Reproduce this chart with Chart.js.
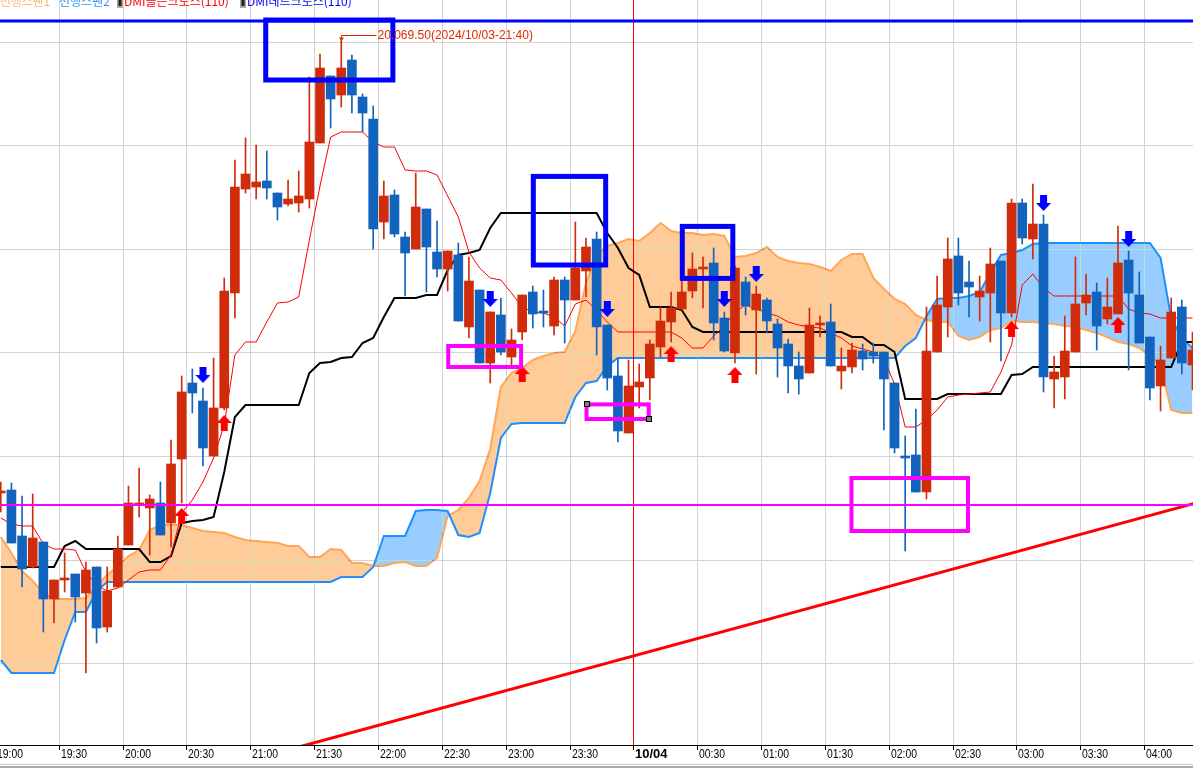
<!DOCTYPE html>
<html>
<head>
<meta charset="utf-8">
<style>
html, body { margin: 0; padding: 0; background: #fff; overflow: hidden; }
#wrap { width: 1193px; height: 768px; }
</style>
<script src="https://cdn.jsdelivr.net/npm/chart.js@4.4.1/dist/chart.umd.min.js"></script>
</head>
<body>
<div id="wrap"><canvas id="ichimoku-chart" width="1193" height="768"></canvas></div>
<script>
// 5-minute bars, 2024/10/03 19:00 -> 10/04 04:20
const firstBarDate = '2024/10/03';
const firstBarMinute = 19 * 60;
const barMinutes = 5;

const tickLabels = ['19:00', '19:30', '20:00', '20:30', '21:00', '21:30', '22:00', '22:30', '23:00', '23:30',
    '10/04', '00:30', '01:00', '01:30', '02:00', '02:30', '03:00', '03:30', '04:00'];
const barsPerTick = 6;

const opens = [
    19955.75, 19956.5, 19945, 19937.25, 19943.5, 19929.25, 19934, 19935.5, 19930.75, 19937.25,
    19922.25, 19932.25, 19942.75, 19952.75, 19952, 19953.25, 19948.25, 19964.25, 19983.25, 19978.75,
    19965, 19977, 20005.75, 20031.75, 20032.25, 20033.75, 20030.75, 20028, 20028.25, 20029.25,
    20043.25, 20060, 20055.25, 20064, 20054.75, 20049.25, 20023.5, 20030.25, 20019.75, 20016.75,
    20026.75, 20016, 20011.75, 20015.25, 19997.25, 20006.5, 19988.25, 20000.25, 19989.75, 19996,
    20006, 20001.25, 19997.5, 20009, 20004, 20011.25, 20019.25, 19997.75, 19985, 19970.75,
    19982.25, 19984.5, 19992.25, 19998.5, 20001.75, 20006.25, 20011.75, 20013.25, 19999.5, 19990.75,
    20008.5, 20001.5, 20004, 19998, 19993, 19987.5, 19985.75, 19997.75, 19998.5, 19986.25,
    19987.25, 19991.25, 19991, 19991, 19983.25, 19965, 19965.25, 19956, 19991, 20002.25,
    20015, 20008.5, 20004.75, 20005.75, 20013.75, 20000.75, 20028.25, 20019.25, 20023, 19984.25,
    19984.75, 19991, 20003.25, 20006, 19999.25, 20000.5, 20014, 20005.25, 19994.75, 19982.5,
    19989.5, 20002.25, 19987.75
];
const highs = [
    19958.5, 19958.25, 19955, 19955.5, 19943.5, 19934, 19940.75, 19935.5, 19938.5, 19937.25,
    19937.25, 19945, 19957.5, 19962, 19955.25, 19958.5, 19969, 19985, 19986.75, 19982,
    19989.5, 20009.5, 20039, 20044.5, 20042.75, 20041.25, 20030.75, 20034, 20036.25, 20059.75,
    20065.5, 20060, 20069.5, 20065.25, 20055.5, 20052.5, 20033.75, 20031.5, 20021, 20035.75,
    20026.75, 20023.75, 20016.25, 20018.25, 20014.75, 20006.5, 20001, 20004.5, 19996.75, 20005.25,
    20007.5, 20006.5, 20009.75, 20009.75, 20023.5, 20019.5, 20021, 19997.75, 19989.5, 19989,
    19988, 19994, 20002.25, 20006, 20009, 20015.75, 20014.75, 20017, 20001, 20012.5,
    20009.75, 20007.5, 20004.5, 19999.25, 19994.25, 19991, 20002, 20000, 20003, 19992,
    19993.25, 19993, 19993.25, 19991, 19983.25, 19970, 19976.75, 20002.25, 20010, 20019.5,
    20019.5, 20013.75, 20010, 20017, 20013.75, 20029.25, 20029.25, 20033, 20025.25, 19990,
    20000, 20014.75, 20010.5, 20008.25, 20009.5, 20022.5, 20016.25, 20011, 19994.75, 19992.5,
    20004.5, 20004, 19996
];
const lows = [
    19951, 19943.25, 19932.25, 19937, 19921, 19923.25, 19931, 19923.5, 19910.75, 19918.25,
    19921, 19932.25, 19942.75, 19949.75, 19940.25, 19945.25, 19942.25, 19953.25, 19975.75, 19962.5,
    19965, 19976.5, 19999.5, 20030.75, 20029.25, 20029.25, 20024, 20027.5, 20026, 20027,
    20043.25, 20047, 20052.25, 20050.75, 20046, 20016.75, 20019.25, 20019.75, 20005, 20016.75,
    20006, 20009.75, 20006.25, 19998.75, 19994.5, 19988.25, 19983.25, 19990.25, 19987.75, 19994,
    19997, 19997.25, 19995.25, 19993.25, 20004, 20004.75, 19990.25, 19981.5, 19968.5, 19970.75,
    19977, 19979, 19989.75, 19993.5, 20001.5, 20004.5, 20002, 19994, 19991, 19988.25,
    20000.25, 19985.5, 19995.75, 19984.75, 19980.75, 19980.5, 19985.75, 19994.75, 19987.5, 19981.75,
    19985.75, 19986.5, 19988.25, 19971.5, 19965.75, 19941.25, 19956, 19954.25, 19991, 19994.75,
    20002.75, 19999.75, 19998.75, 19993.5, 19988.75, 19999.75, 20018, 20014.25, 19981, 19977,
    19979.25, 19991, 20000.25, 19991.5, 19998, 20000.5, 19986.5, 19993.25, 19979, 19976.25,
    19989.5, 19985.5, 19981.5
];
const closes = [
    19956.25, 19943.25, 19936.75, 19944.5, 19929.25, 19934, 19934.5, 19929.75, 19936.5, 19922,
    19931.25, 19941.75, 19953.25, 19953.25, 19954.25, 19945.25, 19963, 19981, 19980.75, 19967,
    19977, 20006.25, 20032.25, 20035.5, 20033.5, 20032, 20027.25, 20029.25, 20030, 20043.5,
    20062, 20054.25, 20062, 20055.25, 20050.75, 20021.75, 20030, 20020.5, 20015.75, 20027.25,
    20017.25, 20011.75, 20016.25, 19998.75, 20008.75, 19988.25, 20001, 19991, 19994, 20005.25,
    20000.5, 20000.75, 20009, 20004, 20012, 20017.25, 19997.25, 19984.5, 19971.25, 19982.5,
    19983.5, 19993, 19998.75, 20002, 20006, 20011.75, 20012.25, 19998.25, 19991.25, 20012,
    20002.5, 20005.5, 19998.75, 19992, 19987.5, 19984.25, 19997.75, 19998.25, 19987.5, 19987.5,
    19991.5, 19989.25, 19990, 19984.25, 19967, 19964.5, 19956, 19991.25, 20002.75, 20014.25,
    20005.75, 20007.25, 20006.25, 20013, 20000.75, 20028.25, 20019.5, 20023, 19984.75, 19986,
    19991.25, 20003, 20005.25, 19997.5, 20002.25, 20013.25, 20005.75, 19993.25, 19982, 19989,
    20001, 19988.25, 19991.5
];

// ichimoku lines, one value per bar (spans already shifted to the bar they are drawn on)
const tenkan = [
    19949.5, 19948, 19947.5, 19947.5, 19943, 19941.75, 19941.75, 19941.5, 19936, 19932.75,
    19931.25, 19932, 19934, 19936, 19936.5, 19936.5, 19940.25, 19950.75, 19954, 19958.5,
    19964.5, 19972.75, 19990.25, 19993.5, 19993.5, 19998.5, 20003.25, 20003.5, 20004.75, 20019,
    20032.5, 20044.75, 20046, 20046, 20046, 20043.5, 20042.25, 20042.25, 20036.5, 20036.25,
    20036.25, 20035.25, 20030, 20024.75, 20016, 20012, 20009.5, 20009, 20005.75, 20002.25,
    20001, 20000.75, 19999.75, 19997.5, 20003, 20004, 20001.5, 19998.5, 19996, 19996,
    19996, 19996, 19996, 19996, 19994.5, 19992, 19992, 19995, 19997.5, 20001,
    20002.75, 20001.75, 20000.75, 20000, 19998.5, 19997.75, 19997.25, 19997, 19995.75, 19994.5,
    19992.5, 19991.75, 19991, 19989.25, 19983, 19972.25, 19972.25, 19974, 19976.5, 19979.75,
    19980.25, 19980.5, 19980.75, 19981, 19986, 19992.75, 20007.75, 20010.5, 20007, 20005,
    20005, 20005, 20005, 20005, 20005, 20005, 20001.75, 20000.75, 20000.5, 19999.5,
    19999.5, 19999.5, 19999.5
];
const kijun = [
    19937.25, 19937.25, 19937.25, 19937.25, 19937.25, 19937.25, 19942.5, 19943.75, 19941.75, 19941.75,
    19941.75, 19941.75, 19941.75, 19941.75, 19938.5, 19938.5, 19940, 19948.25, 19948.75, 19949,
    19949.75, 19961, 19974.75, 19977.75, 19977.75, 19977.75, 19977.75, 19977.75, 19977.75, 19985.75,
    19988.25, 19988.5, 19989.5, 19989.75, 19993.25, 19994.5, 19999.75, 20004.5, 20004.5, 20004.5,
    20005.25, 20005.25, 20011.5, 20015.25, 20015.75, 20016.5, 20022, 20025.75, 20025.75, 20025.75,
    20025.75, 20025.75, 20025.75, 20025.75, 20025.75, 20025.75, 20025.75, 20020.75, 20017, 20012,
    20010.25, 20002.25, 20002.25, 20002.25, 20001.5, 19997.25, 19996, 19996, 19996, 19996,
    19996, 19996, 19996, 19996, 19996, 19996, 19996, 19996, 19996, 19996,
    19994.75, 19994.75, 19992.75, 19992.75, 19991, 19979.25, 19979.25, 19979.25, 19979.25, 19980.5,
    19980.5, 19980.5, 19980.5, 19980.5, 19980.5, 19985.25, 19985.5, 19987.25, 19987.25, 19987.25,
    19987.25, 19987.25, 19987.25, 19987.25, 19987.25, 19987.25, 19987.25, 19987.25, 19987.25, 19987.25,
    19987.25, 19993.5, 19993.5
];
const senkouA = [
    19944.75, 19940.75, 19936.25, 19933.75, 19930.75, 19929.25, 19929.25, 19929.25, 19929.5, 19932.5,
    19935.25, 19937.5, 19940, 19941.5, 19946.5, 19947.75, 19947.75, 19947.75, 19947, 19946.25,
    19946, 19945.75, 19944.75, 19944, 19943.75, 19943.5, 19943.25, 19942.5, 19942.5, 19939.75,
    19939.75, 19941.75, 19941.5, 19938.25, 19938.25, 19937.5, 19937.5, 19938.25, 19938.5, 19937.5,
    19937.5, 19939.5, 19950, 19951.5, 19954.5, 19958.75, 19966.75, 19982.25, 19985.75, 19987,
    19989, 19990, 19990.75, 19991, 19996.25, 20008.25, 20015.25, 20017.5, 20018.25, 20019.25,
    20018.75, 20020.75, 20023.25, 20021.25, 20020.75, 20020.75, 20020.25, 20020.5, 20020, 20014.75,
    20015, 20015.75, 20017.25, 20014.75, 20013.75, 20013.25, 20013, 20012.25, 20011.25, 20014,
    20015.5, 20015.5, 20009.5, 20006.75, 20004.25, 20003, 20000.25, 19999, 19998.5, 19998.5,
    19995, 19994, 19994.75, 19996.5, 19997, 19998.75, 19998.5, 19998.5, 19998.25, 19998,
    19997.5, 19997.25, 19996.5, 19995.75, 19994.75, 19993.5, 19993, 19992, 19990, 19987.75,
    19976.5, 19975.75, 19975.75
];
const senkouB = [
    19914, 19910.75, 19910.75, 19910.75, 19910.75, 19910.75, 19919, 19926, 19926, 19931.25,
    19933.5, 19933.5, 19933.5, 19933.5, 19933.5, 19933.5, 19933.5, 19933.5, 19933.5, 19933.5,
    19933.5, 19933.5, 19933.5, 19933.5, 19933.5, 19933.5, 19933.5, 19933.5, 19933.5, 19933.5,
    19933.5, 19933.5, 19934.75, 19934.75, 19934.75, 19937.25, 19945, 19945, 19945, 19951.25,
    19951.5, 19951.5, 19951.25, 19945.25, 19944.75, 19945.75, 19955.75, 19969.5, 19973, 19973.25,
    19973.25, 19973.25, 19973.25, 19973.25, 19979.75, 19983.25, 19983.75, 19987.5, 19989.5, 19989.5,
    19989.5, 19989.5, 19989.5, 19989.5, 19989.5, 19989.5, 19989.5, 19989.5, 19989.5, 19989.5,
    19989.5, 19989.5, 19989.5, 19989.5, 19989.5, 19989.5, 19989.5, 19989.5, 19989.5, 19989.5,
    19989.5, 19989.5, 19989.5, 19989.5, 19989.5, 19992.5, 19994.5, 20000, 20004.25, 20004.5,
    20004.5, 20005, 20006, 20010.75, 20015.25, 20015.75, 20016.5, 20018, 20018.25, 20018.25,
    20018.25, 20018.25, 20018.25, 20018.25, 20018.25, 20018.25, 20018.25, 20018.25, 20018.25, 20014.5,
    19999.5, 19994.5, 19992
];

// DMI signals: bar index and marker price
const goldenBars = [17, 21, 49, 63, 69, 95, 105];
const goldenLevels = [19950, 19973.25, 19985.5, 19990.5, 19985.25, 19996.75, 19997.75];
const deadBars = [19, 46, 57, 68, 71, 98, 106];
const deadLevels = [19985.25, 20004.25, 20001.75, 20004.25, 20010.5, 20028.25, 20019.25];

// drawn objects: horizontal levels, trend line, boxes [fromBar, toBar, topPrice, bottomPrice]
const blueLevel = 20073.75;
const magentaLevel = 19952.75;
const trendPoints = [{ x: 28, y: 19892.25 }, { x: 113, y: 19953.75 }];
const blueBoxes = [[24.9, 36.85, 20074, 20059], [50.05, 56.85, 20034.9, 20012.75], [64.05, 68.8, 20022.4, 20009.4]];
const magentaBoxes = [[42.05, 48.9, 19992.5, 19987.25], [55.05, 60.9, 19977.9, 19974.25], [79.95, 90.9, 19959.5, 19946.25]];

const priceGrid = [20068.6, 20042.7, 20016.8, 19990.9, 19965.0, 19939.1, 19913.2];

const upColor = '#D02C0C';
const downColor = '#1263BE';

const xTicks = tickLabels.map((_, k) => k * barsPerTick - 0.5);
const dateBreak = xTicks[tickLabels.indexOf('10/04')];

function series(arr) {
    return arr.map((v, i) => ({ x: i, y: v }));
}

function barTime(i) {
    const m = firstBarMinute + i * barMinutes;
    const hh = String(Math.floor(m / 60) % 24).padStart(2, '0');
    const mm = String(m % 60).padStart(2, '0');
    return hh + ':' + mm;
}

function makeArrow(color, up) {
    const c = document.createElement('canvas');
    c.width = 15;
    c.height = 16;
    const g = c.getContext('2d');
    g.fillStyle = color;
    if (!up) {
        g.translate(0, 16);
        g.scale(1, -1);
    }
    g.beginPath();
    g.moveTo(7.5, 0);
    g.lineTo(15, 8);
    g.lineTo(0, 8);
    g.closePath();
    g.fill();
    g.fillRect(4, 8, 7, 8);
    return c;
}

const candleColors = closes.map((c, i) => c >= opens[i] ? upColor : downColor);

// white background, needed for the grid pass
const background = {
    id: 'background',
    beforeDraw(chart) {
        const ctx = chart.ctx;
        ctx.save();
        ctx.fillStyle = '#fff';
        ctx.fillRect(0, 0, chart.width, chart.height);
        ctx.restore();
    }
};

// grid is drawn over the cloud with a NOT-XOR pen, like the original HTS
const gridPass = {
    id: 'gridPass',
    afterDatasetDraw(chart, args) {
        if (args.index !== 1) return;
        const { ctx, chartArea: a, scales: { x, y } } = chart;
        const w = chart.canvas.width, h = chart.canvas.height;
        const img = ctx.getImageData(0, 0, w, h);
        const d = img.data;
        const pen = 211;
        const flip = (px, py) => {
            const k = (py * w + px) * 4;
            d[k] = 255 - (pen ^ d[k]);
            d[k + 1] = 255 - (pen ^ d[k + 1]);
            d[k + 2] = 255 - (pen ^ d[k + 2]);
            d[k + 3] = 255;
        };
        const top = Math.round(a.top), bottom = Math.round(a.bottom);
        const cols = new Set();
        xTicks.forEach(v => {
            const px = Math.floor(x.getPixelForValue(v));
            if (px < 0 || px >= w) return;
            cols.add(px);
            if (v === dateBreak) return;
            for (let py = top; py < bottom; py++) flip(px, py);
        });
        priceGrid.forEach(v => {
            const py = Math.round(y.getPixelForValue(v));
            for (let px = 0; px < w; px++) {
                if (!cols.has(px)) flip(px, py);
            }
        });
        ctx.putImageData(img, 0, 0);
        ctx.save();
        ctx.fillStyle = '#FF0000';
        ctx.fillRect(Math.floor(x.getPixelForValue(dateBreak)), top, 1, bottom - top);
        ctx.restore();
    }
};

const annotations = {
    id: 'annotations',
    afterDatasetsDraw(chart) {
        const { ctx, scales: { x, y } } = chart;
        ctx.save();
        ctx.lineJoin = 'miter';
        const rect = b => {
            const l = x.getPixelForValue(b[0]), r = x.getPixelForValue(b[1]);
            const t = y.getPixelForValue(b[2]), btm = y.getPixelForValue(b[3]);
            return [l, t, r, btm];
        };
        ctx.strokeStyle = '#0000FF';
        ctx.lineWidth = 5;
        blueBoxes.forEach(b => {
            const [l, t, r, btm] = rect(b);
            ctx.strokeRect(l, t, r - l, btm - t);
        });
        ctx.strokeStyle = '#FF00FF';
        ctx.lineWidth = 4;
        magentaBoxes.forEach((b, k) => {
            const [l, t, r, btm] = rect(b);
            ctx.strokeRect(l, t, r - l, btm - t);
            if (k === 1) {
                ctx.save();
                ctx.lineWidth = 1;
                ctx.fillStyle = '#808080';
                ctx.strokeStyle = '#000';
                [[l, t], [r, btm]].forEach(([hx, hy]) => {
                    ctx.fillRect(Math.round(hx) - 3, Math.round(hy) - 3, 6, 6);
                    ctx.strokeRect(Math.round(hx) - 2.5, Math.round(hy) - 2.5, 5, 5);
                });
                ctx.restore();
            }
        });

        // session high marker
        const hi = Math.max(...highs);
        const hiIdx = highs.indexOf(hi);
        const hx = Math.round(x.getPixelForValue(hiIdx)) + 0.5;
        const hy = Math.round(y.getPixelForValue(hi));
        ctx.strokeStyle = '#E02A00';
        ctx.fillStyle = '#E02A00';
        ctx.lineWidth = 1;
        ctx.beginPath();
        ctx.moveTo(hx, hy + 1);
        ctx.lineTo(hx, hy - 2.5);
        ctx.lineTo(hx + 35, hy - 2.5);
        ctx.stroke();
        ctx.beginPath();
        ctx.moveTo(hx - 2.5, hy - 0.5);
        ctx.lineTo(hx + 2.5, hy - 0.5);
        ctx.lineTo(hx, hy + 3);
        ctx.closePath();
        ctx.fill();
        ctx.font = '12px "Liberation Sans", Arial, sans-serif';
        ctx.textBaseline = 'middle';
        ctx.textAlign = 'left';
        const label = hi.toLocaleString('en-US', { minimumFractionDigits: 2, maximumFractionDigits: 2 }) +
            '(' + firstBarDate + '-' + barTime(hiIdx) + ')';
        ctx.fillText(label, hx + 36, hy - 2);
        ctx.restore();
    }
};

const frame = {
    id: 'frame',
    afterDraw(chart) {
        const { ctx, chartArea: a, scales: { x } } = chart;
        const w = chart.width;
        ctx.save();
        // legend (clipped by the top edge, as in the original)
        ctx.font = '12px "Noto Sans CJK KR", sans-serif';
        ctx.textBaseline = 'alphabetic';
        ctx.textAlign = 'left';
        const items = [
            { text: '선행스팬1', color: '#FFB066', x: 0, w: 50 },
            { text: '선행스팬2', color: '#2E93F2', x: 59, w: 53 },
            { text: 'DMI골든크로스(110)', color: '#FF0000', x: 124, w: 110, icon: 117 },
            { text: 'DMI데드크로스(110)', color: '#0000FF', x: 247, w: 108, icon: 240 }
        ];
        items.forEach(it => {
            if (it.icon !== undefined) {
                ctx.fillStyle = '#A8A8A8';
                ctx.fillRect(it.icon, 0, 6, 8);
                ctx.fillStyle = '#202020';
                ctx.fillRect(it.icon + 1.5, 0, 3, 6);
            }
            ctx.fillStyle = it.color;
            ctx.fillText(it.text, it.x, 6, it.w);
        });

        // time axis
        const bottom = Math.round(a.bottom);
        ctx.fillStyle = '#000';
        ctx.fillRect(0, bottom, w, 1);
        ctx.textBaseline = 'top';
        tickLabels.forEach((t, k) => {
            const px = Math.floor(x.getPixelForValue(xTicks[k]));
            ctx.fillStyle = '#000';
            ctx.fillRect(px, bottom + 1, 1, 4);
            const bold = t === '10/04';
            ctx.font = (bold ? 'bold ' : '') + '13px "Liberation Sans", Arial, sans-serif';
            ctx.fillText(t, px + 2, bottom + 3, bold ? 34 : 26);
        });
        ctx.fillStyle = '#C8C8C8';
        ctx.fillRect(0, 764, w, 1);
        ctx.fillStyle = '#A8A8A8';
        ctx.fillRect(0, 766, w, 2);
        ctx.restore();
    }
};

const lineStyle = { pointRadius: 0, tension: 0, borderJoinStyle: 'miter' };

new Chart(document.getElementById('ichimoku-chart'), {
    type: 'bar',
    data: {
        datasets: [
            {
                type: 'line', label: '선행스팬1', data: series(senkouA), ...lineStyle,
                borderColor: '#FFA756', borderWidth: 2,
                fill: { target: '+1', above: '#FFCC99', below: '#99CCFF' }, order: 10
            },
            {
                type: 'line', label: '선행스팬2', data: series(senkouB), ...lineStyle,
                borderColor: '#1E8FFF', borderWidth: 2, fill: false, order: 9
            },
            {
                type: 'line', label: '기준선', data: series(kijun), ...lineStyle,
                borderColor: '#000000', borderWidth: 2, fill: false, order: 6
            },
            {
                type: 'line', label: '전환선', data: series(tenkan), ...lineStyle,
                borderColor: '#FF0000', borderWidth: 1, fill: false, order: 5
            },
            {
                label: 'wick', data: lows.map((l, i) => ({ x: i, y: [l, highs[i]] })),
                backgroundColor: candleColors, borderWidth: 0, barThickness: 1, grouped: false, order: 3
            },
            {
                label: 'body', data: opens.map((o, i) => ({ x: i, y: [o, closes[i]] })),
                backgroundColor: candleColors, borderWidth: 0, barThickness: 9, grouped: false, order: 2
            },
            {
                type: 'line', label: 'blue level', data: [{ x: -1, y: blueLevel }, { x: 114, y: blueLevel }], ...lineStyle,
                borderColor: '#0000FF', borderWidth: 3, fill: false, order: 1
            },
            {
                type: 'line', label: 'magenta level', data: [{ x: -1, y: magentaLevel }, { x: 114, y: magentaLevel }], ...lineStyle,
                borderColor: '#FF00FF', borderWidth: 2, fill: false, order: 1
            },
            {
                type: 'line', label: 'trend', data: trendPoints, ...lineStyle,
                borderColor: '#FF0000', borderWidth: 3, fill: false, order: 1
            },
            {
                type: 'line', label: 'DMI골든크로스(110)', showLine: false, fill: false,
                data: goldenBars.map((b, k) => ({ x: b, y: goldenLevels[k] })),
                pointStyle: makeArrow('#FF0000', true), pointRadius: 8, order: 0
            },
            {
                type: 'line', label: 'DMI데드크로스(110)', showLine: false, fill: false,
                data: deadBars.map((b, k) => ({ x: b, y: deadLevels[k] })),
                pointStyle: makeArrow('#0000FF', false), pointRadius: 8, order: 0
            }
        ]
    },
    options: {
        responsive: false,
        devicePixelRatio: 1,
        animation: false,
        events: [],
        layout: { autoPadding: false, padding: { top: 0, left: 0, right: 0, bottom: 23 } },
        plugins: {
            legend: { display: false },
            tooltip: { enabled: false }
        },
        scales: {
            x: { type: 'linear', display: false, offset: false, min: -0.075, max: 112.05 },
            y: { type: 'linear', display: false, min: 19892.75, max: 20079 }
        }
    },
    plugins: [background, gridPass, annotations, frame]
});
</script>
</body>
</html>
